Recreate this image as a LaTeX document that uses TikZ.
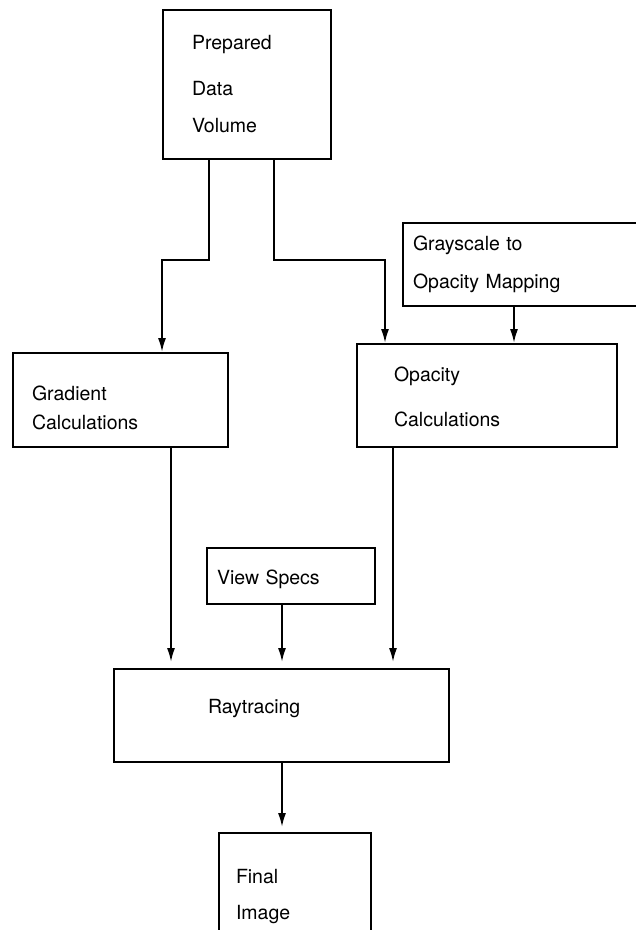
\documentclass[tikz,border=0pt]{standalone}
\usepackage{fontspec}
\setmainfont{TeX Gyre Heros}
\usetikzlibrary{arrows.meta,positioning,calc}

\tikzset{
    blk/.style={draw, rectangle, line width=1.9pt, align=left, inner ysep=0pt,
        font=\fontsize{19.5}{23}\selectfont},
    >={Latex[length=14pt,width=8pt]}
}

\begin{document}
\begin{tikzpicture}[x=1pt, y=1pt, line width=1.9pt]
    \useasboundingbox (0,0) rectangle (636,-930);

    \node[blk, text width=110pt, inner xsep=29pt, minimum height=149pt] (prep) at (247,-84.5) {Prepared\\[23pt]Data\\[14pt]Volume};
    \node[blk, text width=177pt, inner xsep=19pt, minimum height=94pt] (grad) at (120.5,-400) {\rule{0pt}{30pt}Gradient\\[6pt]Calculations};
    \node[blk, text width=186pt, inner xsep=37pt, minimum height=103pt] (opac) at (487,-395.5) {\rule{0pt}{18pt}Opacity\\[22pt]Calculations};
    \node[blk, text width=242pt, inner xsep=10pt, minimum height=83pt] (gray) at (534,-264.5) {Grayscale to\\[15pt]Opacity Mapping};
    \node[blk, text width=148pt, inner xsep=10pt, minimum height=56pt] (view) at (291,-576) {\rule{0pt}{22pt}View Specs};
    \node[blk, text width=147pt, inner xsep=94pt, minimum height=93pt] (ray) at (281.5,-715.5) {Raytracing\rule[-18pt]{0pt}{0pt}};
    \node[blk, text width=118pt, inner xsep=17pt, minimum height=127pt] (final) at (295,-896.5) {Final\\[13pt]Image};

    \draw[->] ([xshift=-38pt]prep.south) -- ++(0,-100) -| ([xshift=41.5pt]grad.north);
    \draw[->] ([xshift=27pt]prep.south) -- ++(0,-100) -| ([xshift=-102pt]opac.north);
    \draw[->] ([xshift=-20pt]gray.south) -- ([xshift=-20pt]gray.south |- opac.north);

    \draw[->, shorten >=6pt] ([xshift=50.5pt]grad.south) -- ([xshift=50.5pt]grad.south |- ray.north);
    \draw[->, shorten >=6pt] ([xshift=-9pt]view.south) -- ([xshift=-9pt]view.south |- ray.north);
    \draw[->, shorten >=6pt] ([xshift=-94pt]opac.south) -- ([xshift=-94pt]opac.south |- ray.north);
    \draw[->, shorten >=5pt] ([xshift=0.5pt]ray.south) -- ([xshift=0.5pt]ray.south |- final.north);
\end{tikzpicture}
\end{document}
